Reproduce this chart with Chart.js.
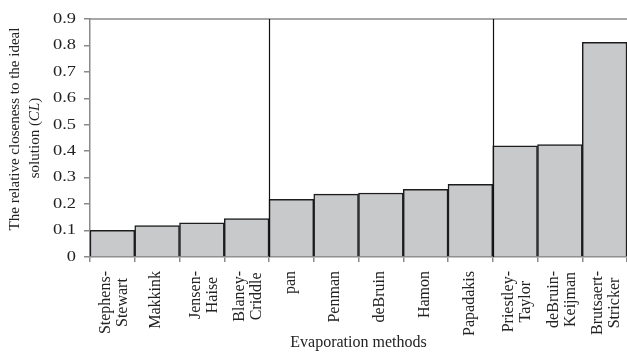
<!DOCTYPE html>
<html>
<head>
<meta charset="utf-8">
<script src="https://cdn.jsdelivr.net/npm/chart.js@4/dist/chart.umd.min.js"></script>
<style>
  html, body { margin: 0; padding: 0; background: #fff; }
  #wrap { width: 627px; height: 352px; overflow: hidden; }
</style>
</head>
<body>
<div id="wrap"><canvas id="chart" width="627" height="352"></canvas></div>
<script>
// Evaporation methods, each label split into the lines it is printed on
const methods = [
  ['Stephens-', 'Stewart'],
  ['Makkink'],
  ['Jensen-', 'Haise'],
  ['Blaney-', 'Criddle'],
  ['pan'],
  ['Penman'],
  ['deBruin'],
  ['Hamon'],
  ['Papadakis'],
  ['Priestley-', 'Taylor'],
  ['deBruin-', 'Keijman'],
  ['Brutsaert-', 'Stricker']
];

// Relative closeness to the ideal solution (CL) for each method
const closeness = [0.101, 0.119, 0.129, 0.145, 0.218, 0.238, 0.242, 0.256, 0.275, 0.420, 0.425, 0.812];

// Group boundaries: a divider is drawn after these method indices
const groupEnds = [3, 8];

// Y axis tick values
const yTicks = [0, 0.1, 0.2, 0.3, 0.4, 0.5, 0.6, 0.7, 0.8, 0.9];

const SERIF = '"Liberation Serif", "Times New Roman", serif';
const AXIS_GREY = '#8a8a8a';
const TEXT = '#222';

const fmtTick = v => (v === 0 ? '0' : v.toFixed(1));

// Frame top edge, group dividers, tick labels, rotated category labels and the y-axis title
const decorations = {
  id: 'decorations',
  afterDatasetsDraw(chart) {
    const { ctx, chartArea: a, scales: { x, y } } = chart;
    ctx.save();

    // top frame line
    ctx.strokeStyle = AXIS_GREY;
    ctx.lineWidth = 1.5;
    ctx.beginPath();
    ctx.moveTo(a.left, a.top);
    ctx.lineTo(a.right, a.top);
    ctx.stroke();

    // group dividers
    ctx.strokeStyle = '#111';
    ctx.lineWidth = 1.2;
    groupEnds.forEach(i => {
      const px = Math.round((x.getPixelForValue(i) + x.getPixelForValue(i + 1)) / 2) + 0.5;
      ctx.beginPath();
      ctx.moveTo(px, a.top);
      ctx.lineTo(px, a.bottom);
      ctx.stroke();
    });

    // y tick labels, set in a slightly widened face
    ctx.fillStyle = TEXT;
    ctx.font = '14.5px ' + SERIF;
    ctx.textAlign = 'right';
    ctx.textBaseline = 'middle';
    yTicks.forEach(v => {
      ctx.save();
      ctx.translate(a.left - 14, y.getPixelForValue(v));
      ctx.scale(1.27, 1);
      ctx.fillText(fmtTick(v), 0, 0);
      ctx.restore();
    });

    // category labels, rotated, each block centred on its line stack
    ctx.font = '16px ' + SERIF;
    ctx.textAlign = 'center';
    const yTop = a.bottom + 14;
    const lineGap = 17;
    methods.forEach((lines, i) => {
      const cx = x.getPixelForValue(i);
      const maxW = Math.max(...lines.map(l => ctx.measureText(l).width));
      ctx.save();
      ctx.translate(cx + (lines.length > 1 ? 2 : -1), yTop);
      ctx.rotate(-Math.PI / 2);
      lines.forEach((l, j) => {
        const v = (j - (lines.length - 1) / 2) * lineGap;
        ctx.fillText(l, -maxW / 2, v);
      });
      ctx.restore();
    });

    // y-axis title with italic symbol
    const midY = (a.top + a.bottom) / 2;
    ctx.font = '15px ' + SERIF;
    ctx.save();
    ctx.translate(15, midY - 9);
    ctx.rotate(-Math.PI / 2);
    ctx.fillText('The relative closeness to the ideal', 0, 0);
    ctx.restore();

    const parts = [
      { t: 'solution (', f: '15px ' + SERIF },
      { t: 'CL', f: 'italic 15px ' + SERIF },
      { t: ')', f: '15px ' + SERIF }
    ];
    let total = 0;
    parts.forEach(p => { ctx.font = p.f; p.w = ctx.measureText(p.t).width; total += p.w; });
    ctx.save();
    ctx.translate(35, midY);
    ctx.rotate(-Math.PI / 2);
    ctx.textAlign = 'left';
    let u = -total / 2;
    parts.forEach(p => { ctx.font = p.f; ctx.fillText(p.t, u, 0); u += p.w; });
    ctx.restore();

    ctx.restore();
  }
};

new Chart(document.getElementById('chart'), {
  type: 'bar',
  data: {
    labels: methods,
    datasets: [{
      data: closeness,
      backgroundColor: '#c8c9cb',
      borderColor: '#1c1c1c',
      borderWidth: 1.5,
      categoryPercentage: 1.0,
      barPercentage: 1.0
    }]
  },
  options: {
    responsive: false,
    devicePixelRatio: 1,
    animation: false,
    layout: { padding: { top: 19, right: -3, bottom: 0, left: 0 } },
    plugins: { legend: { display: false }, tooltip: { enabled: false } },
    scales: {
      x: {
        offset: true,
        grid: { offset: true, drawOnChartArea: false, tickLength: 5, color: AXIS_GREY, lineWidth: 1.5 },
        border: { color: AXIS_GREY, width: 1.5 },
        ticks: { display: false },
        title: {
          display: true,
          text: 'Evaporation methods',
          color: TEXT,
          font: { family: SERIF, size: 16 },
          padding: { top: 0, bottom: 0 }
        },
        afterFit(s) { s.height = 95; }
      },
      y: {
        min: 0,
        max: 0.9,
        afterBuildTicks(s) { s.ticks = yTicks.map(v => ({ value: v })); },
        ticks: { display: false },
        grid: { drawOnChartArea: false, tickLength: 6, color: AXIS_GREY, lineWidth: 1.5 },
        border: { color: AXIS_GREY, width: 1.5 },
        afterFit(s) { s.width = 90; }
      }
    }
  },
  plugins: [decorations]
});
</script>
</body>
</html>
